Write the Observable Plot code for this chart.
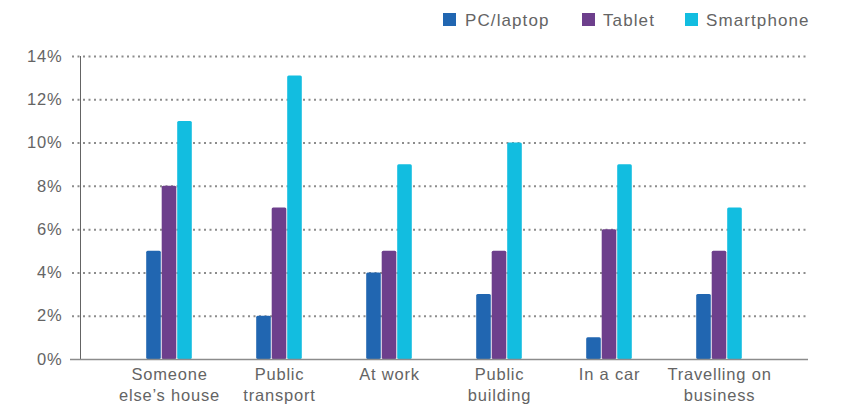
<!DOCTYPE html>
<html>
<head>
<meta charset="utf-8">
<script src="https://cdn.jsdelivr.net/npm/d3@7"></script>
<script src="https://cdn.jsdelivr.net/npm/@observablehq/plot@0.6"></script>
<style>
  body { margin: 0; background: #fff; font-family: "Liberation Sans", Arial, sans-serif; }
  #legend { position: relative; width: 846px; height: 40px; }
  .sw { position: absolute; top: 13px; width: 13px; height: 13px; }
  .lb { position: absolute; top: 12px; font-size: 17px; line-height: 17px; letter-spacing: 1.1px; color: #646464; white-space: nowrap; }
  #chart svg text { letter-spacing: 0.8px; }
</style>
</head>
<body>
<div id="legend"></div>
<div id="chart"></div>
<script>
// ---- data ----
const categories = ["Someone else’s house", "Public transport", "At work", "Public building", "In a car", "Travelling on business"];
const categoryLabels = ["Someone\nelse’s house", "Public\ntransport", "At work", "Public\nbuilding", "In a car", "Travelling on\nbusiness"];
const pcLaptop   = [5, 2, 4, 3, 1, 3];
const tablet     = [8, 7, 5, 5, 6, 5];
const smartphone = [11, 13.1, 9, 10, 9, 7];
const seriesNames = ["PC/laptop", "Tablet", "Smartphone"];
const seriesColors = ["#2166b1", "#6d3f8c", "#12bde0"];
const yTicks = [0, 2, 4, 6, 8, 10, 12, 14];

// ---- legend ----
const legend = document.getElementById("legend");
const swatchX = [443, 582, 685];
const labelX = [465, 603, 706];
seriesNames.forEach((name, i) => {
  const s = document.createElement("div");
  s.className = "sw";
  s.style.left = swatchX[i] + "px";
  s.style.background = seriesColors[i];
  legend.appendChild(s);
  const t = document.createElement("div");
  t.className = "lb";
  t.style.left = labelX[i] + "px";
  t.textContent = name;
  legend.appendChild(t);
});

// ---- table ----
const rows = categories.map((c, i) => ({
  category: c,
  label: categoryLabels[i],
  pc: pcLaptop[i],
  tablet: tablet[i],
  smartphone: smartphone[i]
}));

const barW = 15, stride = 15.5, step = 110.4;
const inset = (step - barW) / 2;

const chart = Plot.plot({
  width: 846,
  height: 367,
  marginLeft: 80,
  marginRight: 38,
  marginTop: 16,
  marginBottom: 48,
  style: { fontFamily: "Liberation Sans, Arial, sans-serif", fontSize: "16.5px", color: "#646464", background: "#fff" },
  x: { domain: categories, range: [168 - step / 2, 168 + step * 5.5], padding: 0, axis: null },
  y: { domain: [0, 14], ticks: yTicks, tickFormat: d => d + "%", tickSize: 0, tickPadding: 18, line: true, label: null },
  marks: [
    Plot.ruleY(yTicks.filter(d => d > 0), { stroke: "#8c8c8c", strokeWidth: 2, strokeDasharray: "2 3.5", insetLeft: -8 }),
    Plot.barY(rows, { x: "category", y: "pc", fill: seriesColors[0], insetLeft: inset, insetRight: inset, dx: -stride, rx: 1.5 }),
    Plot.barY(rows, { x: "category", y: "tablet", fill: seriesColors[1], insetLeft: inset, insetRight: inset, dx: 0, rx: 1.5 }),
    Plot.barY(rows, { x: "category", y: "smartphone", fill: seriesColors[2], insetLeft: inset, insetRight: inset, dx: stride, rx: 1.5 }),
    Plot.ruleY([0], { stroke: "#8c8c8c", strokeWidth: 1.6, insetLeft: -10 }),
    Plot.text(rows, { x: "category", y: () => 0, text: "label", dy: 6, lineAnchor: "top", lineHeight: 1.25, fill: "#646464", fontSize: 16.5 })
  ]
});
document.getElementById("chart").appendChild(chart);
</script>
</body>
</html>
